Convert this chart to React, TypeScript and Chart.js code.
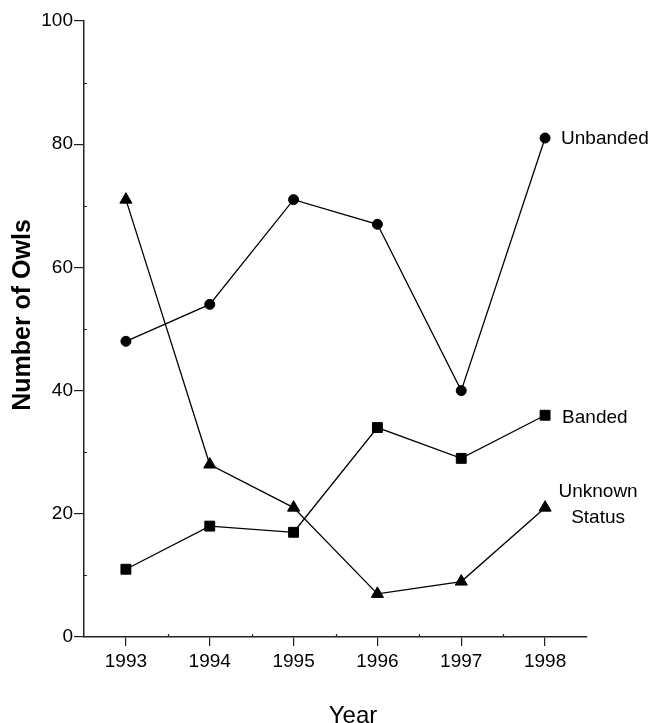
import React, { useEffect, useRef } from "react";
import { Chart, registerables } from "chart.js";

Chart.register(...registerables);

const years = ["1993", "1994", "1995", "1996", "1997", "1998"];
const unbanded = [48, 54, 71, 67, 40, 81];
const banded = [11, 18, 17, 34, 29, 36];
const unknownStatus = [71, 28, 21, 7, 9, 21];
const yTicks = [0, 20, 40, 60, 80, 100];
const yMinorTicks = [10, 30, 50, 70, 90];

const FONT = '"Liberation Sans", Arial, sans-serif';
const AXIS = "#222";

const decorPlugin = {
  id: "decor",
  afterDraw(chart: any) {
    const { ctx, scales } = chart;
    const xs = scales.x;
    const ys = scales.y;
    ctx.save();
    // minor ticks
    ctx.strokeStyle = AXIS;
    ctx.lineWidth = 1.2;
    ctx.beginPath();
    yMinorTicks.forEach((v) => {
      const y = Math.round(ys.getPixelForValue(v)) + 0.5;
      ctx.moveTo(ys.right, y);
      ctx.lineTo(ys.right + 3, y);
    });
    for (let i = 0; i < years.length - 1; i++) {
      const x = Math.round((xs.getPixelForValue(i) + xs.getPixelForValue(i + 1)) / 2) + 0.5;
      ctx.moveTo(x, xs.top);
      ctx.lineTo(x, xs.top - 3);
    }
    ctx.stroke();

    // series labels
    ctx.fillStyle = "#000";
    ctx.font = `19px ${FONT}`;
    ctx.textBaseline = "middle";
    const last = years.length - 1;
    const p0 = chart.getDatasetMeta(0).data[last];
    const p1 = chart.getDatasetMeta(1).data[last];
    const p2 = chart.getDatasetMeta(2).data[last];
    ctx.textAlign = "left";
    ctx.fillText("Unbanded", p0.x + 16, p0.y + 1);
    ctx.fillText("Banded", p1.x + 17, p1.y + 3);
    ctx.textAlign = "center";
    ctx.fillText("Unknown", p2.x + 53, p2.y - 16);
    ctx.fillText("Status", p2.x + 53, p2.y + 10);

    // axis titles
    ctx.font = `24px ${FONT}`;
    ctx.textAlign = "center";
    ctx.fillText("Year", 353, 716);
    ctx.save();
    ctx.translate(23, 315);
    ctx.rotate(-Math.PI / 2);
    ctx.font = `bold 25px ${FONT}`;
    ctx.fillText("Number of Owls", 0, 0);
    ctx.restore();
    ctx.restore();
  },
};

export default function App() {
  const ref = useRef<HTMLCanvasElement>(null);
  useEffect(() => {
    document.body.style.margin = "0";
    const common = {
      borderColor: "#000",
      backgroundColor: "#000",
      borderWidth: 1.3,
      pointBackgroundColor: "#000",
      pointBorderColor: "#000",
      pointBorderWidth: 1,
      tension: 0,
      fill: false,
    };
    const chart = new Chart(ref.current as HTMLCanvasElement, {
      type: "line",
      data: {
        labels: years,
        datasets: [
          { label: "Unbanded", data: unbanded, pointStyle: "circle", pointRadius: 5, ...common },
          { label: "Banded", data: banded, pointStyle: "rect", pointRadius: 7, ...common },
          { label: "Unknown Status", data: unknownStatus, pointStyle: "triangle", pointRadius: 7, ...common },
        ],
      },
      options: {
        animation: false,
        responsive: false,
        maintainAspectRatio: false,
        layout: { padding: { top: 21, right: 68, left: 0, bottom: 0 } },
        plugins: { legend: { display: false }, tooltip: { enabled: false } },
        scales: {
          x: {
            type: "category",
            offset: true,
            afterFit: (s: any) => {
              s.height = 86;
            },
            grid: { drawOnChartArea: false, drawTicks: true, tickLength: 9, color: AXIS, lineWidth: 1.2 },
            border: { display: true, color: AXIS, width: 1.5 },
            ticks: { color: "#000", font: { family: FONT, size: 19 }, padding: 4, maxRotation: 0, autoSkip: false },
          },
          y: {
            min: 0,
            max: 100,
            afterFit: (s: any) => {
              s.width = 84;
            },
            afterBuildTicks: (s: any) => {
              s.ticks = yTicks.map((v) => ({ value: v }));
            },
            grid: { drawOnChartArea: false, drawTicks: true, tickLength: 10, color: AXIS, lineWidth: 1.2 },
            border: { display: true, color: AXIS, width: 1.5 },
            ticks: { color: "#000", font: { family: FONT, size: 19 }, padding: 1 },
          },
        },
      },
      plugins: [decorPlugin],
    } as any);
    return () => chart.destroy();
  }, []);
  return <canvas ref={ref} width={655} height={723} style={{ display: "block" }} />;
}
